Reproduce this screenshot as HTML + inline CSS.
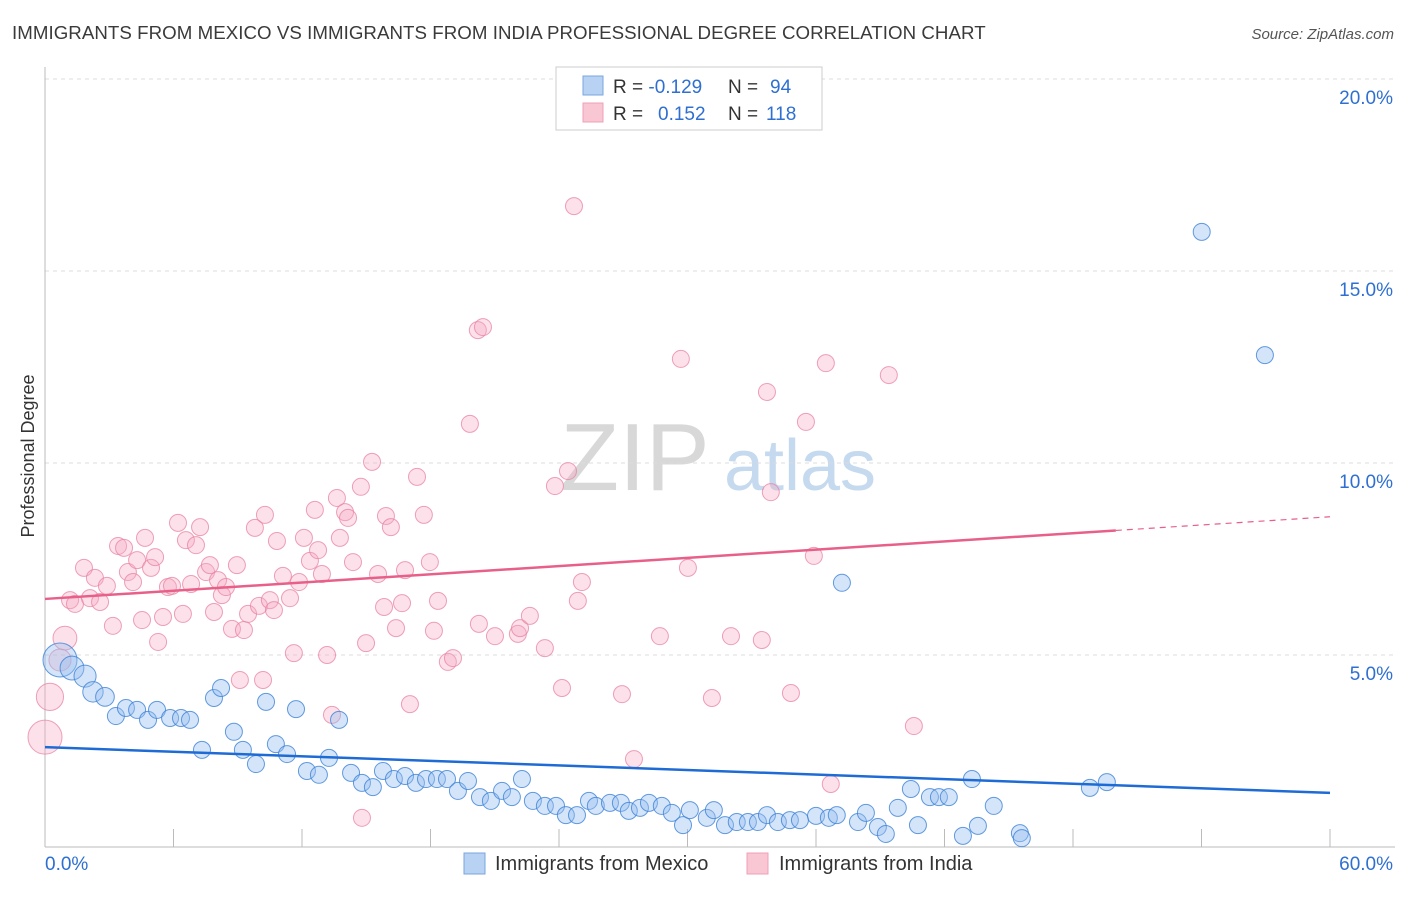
<!DOCTYPE html>
<html><head><meta charset="utf-8"><style>
body{margin:0;background:#fff;font-family:"Liberation Sans",sans-serif;}
svg text{font-family:"Liberation Sans",sans-serif;}
</style></head><body>
<svg id="chart" width="1406" height="892" viewBox="0 0 1406 892" xmlns="http://www.w3.org/2000/svg">
<text x="12" y="39" font-size="18.7" fill="#3a3a3a" letter-spacing="0.05">IMMIGRANTS FROM MEXICO VS IMMIGRANTS FROM INDIA PROFESSIONAL DEGREE CORRELATION CHART</text>
<text x="1394" y="39" font-size="15" fill="#555" font-style="italic" text-anchor="end">Source: ZipAtlas.com</text>
<g>
<text x="635" y="490" font-size="96" fill="#d8d8d8" font-family="Liberation Serif,serif" text-anchor="middle">ZIP</text>
<text x="800" y="490" font-size="72" fill="#c5d9ef" text-anchor="middle">atlas</text>
</g>
<g id="grid"></g>
<g id="axes"></g>
<g id="marks"></g>
<text transform="translate(34,456) rotate(-90)" font-size="18" fill="#333" text-anchor="middle">Professional Degree</text>
<g>
<rect x="556" y="67" width="266" height="63" fill="#fff" stroke="#ccc"/>
<rect x="583" y="76" width="20" height="19" fill="#b7d2f3" stroke="#7aa6dd"/>
<rect x="583" y="103" width="20" height="19" fill="#f9c6d4" stroke="#eea0b6"/>
<text x="613" y="93" font-size="19" fill="#333">R = <tspan fill="#2e6fd1">-0.129</tspan><tspan x="728">N = </tspan><tspan fill="#2e6fd1" x="770">94</tspan></text>
<text x="613" y="120" font-size="19" fill="#333">R = <tspan fill="#2e6fd1" x="658">0.152</tspan><tspan x="728">N = </tspan><tspan fill="#2e6fd1" x="766">118</tspan></text>
</g>
<g>
<rect x="464" y="853" width="21" height="21" fill="#b7d2f3" stroke="#7aa6dd"/>
<text x="495" y="870" font-size="20" fill="#333">Immigrants from Mexico</text>
<rect x="747" y="853" width="21" height="21" fill="#f9c6d4" stroke="#eea0b6"/>
<text x="779" y="870" font-size="20" fill="#333">Immigrants from India</text>
</g>
</svg>
<script>
const xTicks=[0,6,12,18,24,30,36,42,48,54,60];
const yTicks=[5,10,15,20];
const mexicoX=[0.7,1.26,1.87,2.24,2.8,3.31,3.78,4.3,4.81,5.23,5.84,6.35,6.77,7.33,7.89,8.22,8.82,9.24,9.85,10.32,10.78,11.3,11.72,12.23,12.79,13.26,13.73,14.29,14.8,15.31,15.78,16.29,16.81,17.32,17.79,18.3,18.77,19.28,19.75,20.31,20.82,21.34,21.8,22.27,22.78,23.34,23.86,24.32,24.84,25.4,25.72,26.38,26.89,27.26,27.78,28.2,28.8,29.27,29.79,30.11,30.9,31.23,31.75,32.3,32.82,33.29,33.71,34.22,34.78,35.25,36.0,36.6,36.97,37.96,38.33,38.89,39.26,39.82,40.43,40.76,41.32,41.74,42.2,42.86,43.28,43.56,44.3,45.52,45.61,48.79,49.58,37.21,54.01,56.96];
const mexicoY=[4.87,4.66,4.45,4.04,3.91,3.41,3.62,3.57,3.31,3.57,3.36,3.36,3.31,2.53,3.88,4.14,3.0,2.53,2.16,3.78,2.68,2.42,3.59,1.98,1.88,2.32,3.31,1.93,1.67,1.56,1.98,1.77,1.85,1.67,1.77,1.77,1.77,1.46,1.72,1.3,1.2,1.46,1.3,1.77,1.2,1.07,1.07,0.83,0.83,1.2,1.07,1.15,1.15,0.94,1.02,1.15,1.07,0.89,0.57,0.96,0.76,0.96,0.57,0.65,0.65,0.65,0.83,0.65,0.7,0.7,0.81,0.76,0.83,0.65,0.89,0.52,0.34,1.02,1.51,0.57,1.3,1.3,1.3,0.29,1.77,0.55,1.07,0.36,0.23,1.54,1.69,6.88,16.02,12.81];
const mexicoW=[2,1.4,1.3,1.2,1.1];
const indiaX=[0,0.23,0.93,0.7,1.17,1.4,1.82,2.1,2.33,2.57,2.89,3.17,3.41,3.69,3.87,4.11,4.3,4.53,4.67,4.95,5.14,5.28,5.51,5.74,5.93,6.21,6.44,6.58,6.82,7.05,7.24,7.52,7.7,7.89,8.08,8.26,8.45,8.73,8.96,9.1,9.29,9.48,9.8,9.99,10.18,10.27,10.5,10.69,10.83,11.11,11.44,11.62,11.86,12.09,12.37,12.6,12.75,12.93,13.17,13.4,13.63,13.77,14.01,14.15,14.38,14.75,14.99,15.27,15.55,15.83,15.92,16.15,16.39,16.67,16.81,17.04,17.37,17.69,17.97,18.16,18.35,18.81,19.05,19.84,20.21,20.45,20.26,21.01,22.08,22.18,22.64,23.34,23.81,24.14,24.42,24.7,24.88,25.07,26.94,27.5,28.71,29.69,30.02,31.14,32.03,33.47,33.71,33.89,34.83,35.53,35.9,36.46,36.69,39.4,40.57,14.8];
const indiaY=[2.86,3.91,5.44,4.87,6.43,6.33,7.27,6.48,7.01,6.38,6.8,5.76,7.84,7.79,7.16,6.9,7.47,5.91,8.05,7.27,7.55,5.34,5.99,6.77,6.8,8.44,6.07,7.99,6.85,7.86,8.33,7.16,7.34,6.12,6.95,6.56,6.77,5.68,7.34,4.35,5.65,6.07,8.31,6.28,4.35,8.65,6.43,6.17,7.97,7.06,6.48,5.05,6.9,8.05,7.45,8.78,7.73,7.11,5.0,3.44,9.09,8.05,8.72,8.57,7.42,9.38,5.31,10.03,7.11,6.25,8.62,8.33,5.7,6.35,7.21,3.72,9.64,8.65,7.42,5.63,6.41,4.82,4.92,11.02,13.46,13.54,5.81,5.49,5.55,5.7,6.02,5.18,9.4,4.14,9.79,16.69,6.41,6.9,3.98,2.29,5.49,12.71,7.27,3.88,5.49,5.39,11.85,9.24,4.01,11.07,7.58,12.6,1.64,12.29,3.15,0.76];
const indiaW=[2,1.6,1.4,1.3];
const mexicoTrend=[2.6,1.41];
const indiaTrend=[6.46,8.6];
const NS="http://www.w3.org/2000/svg";
const X=v=>45+v/60*1285, Y=v=>847-v*38.4;
function mk(tag,attrs,parent){const e=document.createElementNS(NS,tag);for(const k in attrs)e.setAttribute(k,attrs[k]);parent.appendChild(e);return e;}
const grid=document.getElementById('grid'),axes=document.getElementById('axes'),marks=document.getElementById('marks');
yTicks.forEach(t=>{
 const l=mk('line',{x1:45,x2:1395,y1:Y(t),y2:Y(t),stroke:'#dcdcdc','stroke-dasharray':'4,4'},grid);
 
 
 const tx=mk('text',{x:1393,y:Y(t)+25,'font-size':19,fill:'#2e6fd1','text-anchor':'end'},axes);
 tx.textContent=t.toFixed(1)+'%';
 
 
});
mk('line',{x1:45,x2:45,y1:67,y2:847,stroke:'#bbb'},axes);
mk('line',{x1:45,x2:1395,y1:847,y2:847,stroke:'#bbb'},axes);
xTicks.forEach((t,i)=>{
 if(i>0){const tk=mk('line',{x1:X(t),x2:X(t),y1:829,y2:847,stroke:'#bbb'},axes);
 
 }
});
const xl0=mk('text',{x:45,y:870,'font-size':19,fill:'#2e6fd1'},axes);xl0.textContent=xTicks[0].toFixed(1)+'%';


const xl1=mk('text',{x:1393,y:870,'font-size':19,fill:'#2e6fd1','text-anchor':'end'},axes);xl1.textContent=xTicks[xTicks.length-1].toFixed(1)+'%';


indiaX.forEach((v,i)=>{
 const c=mk('circle',{cx:X(v),cy:Y(indiaY[i]),r:8.5*(indiaW[i]||1),fill:'rgba(247,170,195,0.35)',stroke:'rgba(232,130,160,0.75)','stroke-width':1},marks);
 
 
});
mexicoX.forEach((v,i)=>{
 const c=mk('circle',{cx:X(v),cy:Y(mexicoY[i]),r:8.5*(mexicoW[i]||1),fill:'rgba(150,190,240,0.4)',stroke:'rgba(60,130,215,0.8)','stroke-width':1},marks);
 
 
});
const pm=indiaTrend[0]+(indiaTrend[1]-indiaTrend[0])*50/60;
const t1=mk('line',{x1:X(0),y1:Y(indiaTrend[0]),x2:X(50),y2:Y(pm),stroke:'#e8608a','stroke-width':2.5},marks);


const t2=mk('line',{x1:X(50),y1:Y(pm),x2:X(60),y2:Y(indiaTrend[1]),stroke:'#e8608a','stroke-width':1.2,'stroke-dasharray':'6,5'},marks);


const t3=mk('line',{x1:X(0),y1:Y(mexicoTrend[0]),x2:X(60),y2:Y(mexicoTrend[1]),stroke:'#1e6bd6','stroke-width':2.5},marks);


</script>
</body></html>
